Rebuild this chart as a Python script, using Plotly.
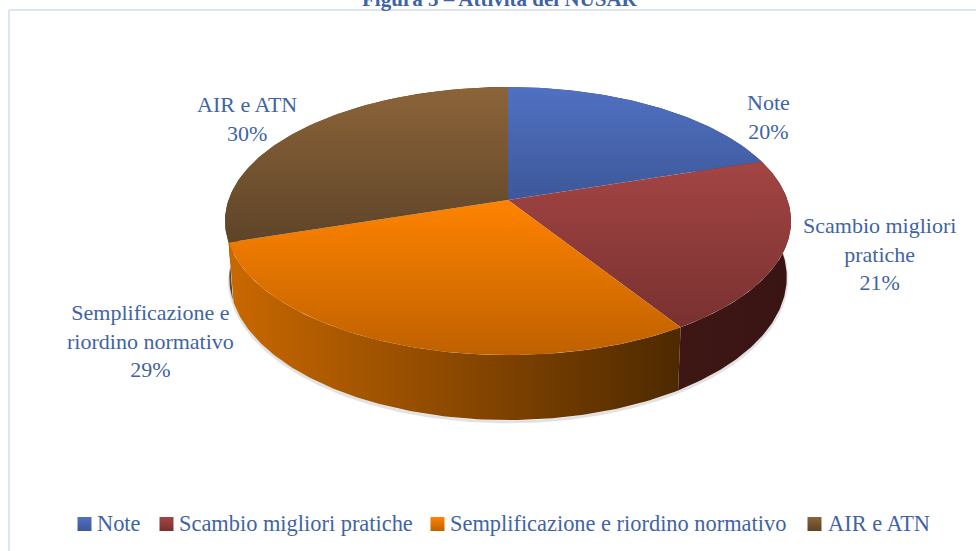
import numpy as np
import plotly.graph_objects as go

categories = ["Note", "Scambio migliori pratiche", "Semplificazione e riordino normativo", "AIR e ATN"]
values = [20, 21, 29, 30]
label_lines = [["Note"], ["Scambio migliori", "pratiche"], ["Semplificazione e", "riordino normativo"], ["AIR e ATN"]]
title_text = "<b>Figura 5 – Attività del NUSAR</b>"

top_colors = [("#3D5899", "#5070C2"), ("#783130", "#A34544"), ("#BF6100", "#FF8300"), ("#5E4428", "#8C6439")]
rim_colors = [("#2F4470", "#2F4470"), ("#3E1715", "#381412"), ("#C96800", "#4D2900"), ("#5A4126", "#4A3420")]
swatch_top = ["#5070C2", "#A34544", "#FF8300", "#8C6439"]
swatch_bottom = ["#3D5899", "#783130", "#BF6100", "#5E4428"]
TEXT = "#3F64A5"
FONT = "Liberation Serif"

CX, CY, A, B, C, H = 508, 200, 279.5, 0.157, 130.7, 54.8
RIM_SCALE = 0.985
label_pos = [(768, 117), (879, 254), (150, 341), (247, 119)]
legend_swatch_x = [84.5, 166.5, 437.5, 814.5]
legend_text_x = [96, 178, 449, 827]
LEGEND_Y = 524


def project(theta, drop=0.0):
    u, v = np.sin(theta), -np.cos(theta)
    d = 1 - B * v
    scale = RIM_SCALE if drop else 1.0
    return CX + scale * A * u / d, CY + (C * v + drop) / d


fractions = np.cumsum([0] + values) / sum(values)
fig = go.Figure()

# shadow under the rim
th = np.radians(np.linspace(88, 262, 200))
sx, sy = project(th, H + 1.5)
fig.add_trace(go.Scatter(x=sx, y=sy, mode="lines", line=dict(color="rgba(110,110,110,0.20)", width=3),
                         hoverinfo="skip", showlegend=False))

# rim, back to front
for i in [0, 3, 1, 2]:
    th = 2 * np.pi * np.linspace(fractions[i], fractions[i + 1], 120)
    x1, y1 = project(th)
    x2, y2 = project(th[::-1], H)
    fig.add_trace(go.Scatter(
        x=np.r_[x1, x2], y=np.r_[y1, y2], mode="lines", line=dict(width=0), fill="toself",
        fillgradient=dict(type="horizontal", colorscale=[[0, rim_colors[i][0]], [1, rim_colors[i][1]]]),
        hoverinfo="skip", showlegend=False))

# top face
for i in range(4):
    th = 2 * np.pi * np.linspace(fractions[i], fractions[i + 1], 120)
    x1, y1 = project(th)
    fig.add_trace(go.Scatter(
        x=np.r_[CX, x1, CX], y=np.r_[CY, y1, CY], mode="lines", line=dict(width=0), fill="toself",
        fillgradient=dict(type="vertical", colorscale=[[0, top_colors[i][0]], [1, top_colors[i][1]]]),
        name=categories[i], hoverinfo="skip", showlegend=False))

# legend
for name, sw, tx, c1, c2 in zip(categories, legend_swatch_x, legend_text_x, swatch_top, swatch_bottom):
    fig.add_trace(go.Scatter(x=[sw], y=[LEGEND_Y], mode="markers", name=name, showlegend=False, hoverinfo="skip",
                             marker=dict(symbol="square", size=14, color=c1, line=dict(width=0),
                                         gradient=dict(type="vertical", color=c2))))
    fig.add_annotation(x=tx, y=LEGEND_Y - 1, text=name, showarrow=False, xanchor="left", yanchor="middle",
                       xshift=-1, font=dict(family=FONT, size=22.4, color=TEXT))

# data labels
for lines, val, (lx, ly) in zip(label_lines, values, label_pos):
    fig.add_annotation(x=lx, y=ly, text="<br>".join(lines + [f"{val}%"]), showarrow=False,
                       font=dict(family=FONT, size=22, color=TEXT), align="center", xanchor="center", yanchor="middle")

fig.add_annotation(x=500, y=1.002, xref="x", yref="paper", text=title_text, showarrow=False,
                   xanchor="center", yanchor="middle", font=dict(family=FONT, size=21, color=TEXT))

frame = dict(type="line", line=dict(color="#DCE6F2", width=2))
fig.add_shape(x0=9, x1=976, y0=10, y1=10, **frame)
fig.add_shape(x0=9, x1=9, y0=10, y1=551, **frame)

fig.update_layout(
    width=976, height=551, margin=dict(l=0, r=0, t=0, b=0),
    paper_bgcolor="white", plot_bgcolor="white", showlegend=False,
    xaxis=dict(range=[0, 976], visible=False, fixedrange=True),
    yaxis=dict(range=[551, 0], visible=False, fixedrange=True),
)
fig.write_html("out.html", config=dict(displayModeBar=False),
               post_script="document.body.style.margin='0';document.body.style.overflow='hidden';")
